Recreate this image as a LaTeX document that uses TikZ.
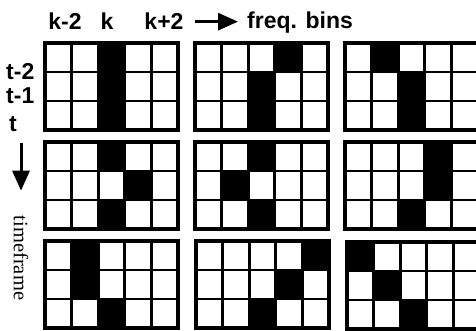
\documentclass[tikz,border=0pt]{standalone}
\usepackage{fontspec}
\setsansfont{Liberation Sans}
\setmainfont{Liberation Serif}
\usetikzlibrary{arrows.meta,positioning,calc}
\tikzset{
  cellline/.style={line width=2.8pt},
  frameline/.style={line width=3.8pt},
  lbl/.style={font=\sffamily\bfseries\fontsize{23}{23}\selectfont,inner sep=0pt},
  tlbl/.style={font=\rmfamily\fontsize{20.5}{20.5}\selectfont,inner sep=0pt},
  arr/.style={-{Triangle[length=20pt,width=17pt]},line width=3pt}
}
\newcommand{\tfpatch}[3]{%
  \begin{scope}[shift={(#1,#2)}]
    \foreach \c/\r in {#3} \fill (\c*26.6,\r*29) rectangle ++(26.6,29);
    \foreach \i in {1,...,4} \draw[cellline] (\i*26.6,0) -- (\i*26.6,87);
    \foreach \j in {1,2} \draw[cellline] (0,\j*29) -- (133,\j*29);
    \draw[frameline] (0,0) rectangle (133,87);
  \end{scope}}

\begin{document}
\begin{tikzpicture}[x=1pt,y=-1pt]
  \useasboundingbox[fill=white] (0,0) rectangle (476,331);

  \node[lbl,anchor=base] (km2) at (65,30) {k-2};
  \node[lbl,anchor=base] (k) at (107,30) {k};
  \node[lbl,anchor=base] (kp2) at (164,30) {k+2};
  \node[lbl,anchor=base west] (freq) at (247,29) {freq. bins};
  \draw[arr,shorten <=11pt,shorten >=9pt] (kp2.east) -- (kp2.east -| freq.west);

  \node[lbl,anchor=base west] (tm2) at (6,80) {t-2};
  \node[lbl,anchor=base west] (tm1) at (6,104) {t-1};
  \node[lbl,anchor=base west] (t) at (9,132) {t};
  \node[tlbl,rotate=-90] (tframe) at (21,258) {timeframe};
  \draw[arr,shorten <=11pt,shorten >=25pt] (t.south -| tframe) -- (tframe.west);

  \tfpatch{45}{43}{2/0,2/1,2/2}
  \tfpatch{195}{43}{3/0,2/1,2/2}
  \tfpatch{345}{43}{1/0,2/1,2/2}
  \tfpatch{45}{142}{2/0,3/1,2/2}
  \tfpatch{195}{142}{2/0,1/1,2/2}
  \tfpatch{345}{142}{3/0,3/1,2/2}
  \tfpatch{45}{241}{1/0,1/1,2/2}
  \tfpatch{196}{241}{4/0,3/1,2/2}
  \tfpatch{347}{242}{0/0,1/1,2/2}
\end{tikzpicture}
\end{document}
